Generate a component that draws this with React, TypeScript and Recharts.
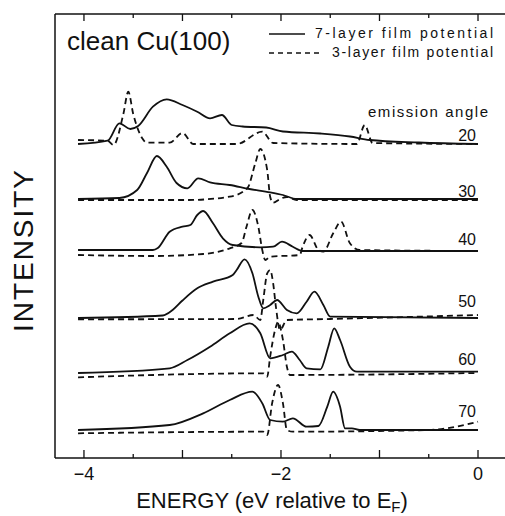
import { LineChart, Line, XAxis, YAxis } from "recharts";

// photoemission spectra, clean Cu(100); energies in eV, intensities above each baseline
const ANGLES = [20, 30, 40, 50, 60, 70];
const OFFSETS = [314, 259, 207, 140, 85, 28];
const X_TICKS = [-4, -3.5, -3, -2.5, -2, -1.5, -1, -0.5, 0];
const X_LABELS = [-4, -2, 0];

type Pt = [number, number];

const SOLID_20: Pt[] = [
  [-4.06, 0], [-3.76, 3.3], [-3.64, 20.7], [-3.53, 15], [-3.45, 18], [-3.3, 37.3],
  [-3.16, 44.7], [-3.0, 39], [-2.85, 32.3], [-2.72, 25.7], [-2.6, 29], [-2.5, 19],
  [-2.39, 17.5], [-2.15, 16.5], [-1.98, 12.5], [-1.6, 10.5], [-1.3, 7.5], [-1.1, 4],
  [-0.6, 1.5], [0, 0],
];
const DASH_20: Pt[] = [
  [-4.06, 4], [-3.76, 3.3], [-3.7, -1], [-3.6, 30], [-3.55, 52.3], [-3.5, 30],
  [-3.41, 6], [-3.36, 1.3], [-3.13, 1.3], [-3.0, 11], [-2.89, 0], [-2.45, 0],
  [-2.19, 12.3], [-2.08, 1], [-1.23, 0], [-1.15, 19], [-1.07, 1], [0, 0],
];
const SOLID_30: Pt[] = [
  [-4.06, 0], [-3.64, 1], [-3.46, 9], [-3.36, 26], [-3.26, 43], [-3.16, 32.3],
  [-3.06, 16], [-2.95, 10.7], [-2.84, 20.7], [-2.72, 16.7], [-2.52, 14], [-2.32, 10],
  [-2.11, 6.7], [-1.98, 4], [-1.84, 0], [0, 0],
];
const DASH_30: Pt[] = [
  [-4.06, -1], [-3.64, -1], [-2.95, -1], [-2.52, 2.3], [-2.34, 11], [-2.26, 36],
  [-2.21, 50], [-2.14, 29], [-2.11, 2.3], [-2.08, -3.7], [-2.01, 0], [-1.94, 2],
  [-1.84, -1], [0, -1],
];
const SOLID_40: Pt[] = [
  [-4.06, 1], [-3.3, 1], [-3.25, 3], [-3.13, 19.3], [-3.0, 24.3], [-2.92, 26],
  [-2.85, 36], [-2.79, 40], [-2.69, 27.7], [-2.59, 12.7], [-2.49, 6], [-2.21, 3.7],
  [-2.08, 4.3], [-1.99, 9.3], [-1.88, 4.3], [-1.78, 0], [0, 0],
];
const DASH_40: Pt[] = [
  [-4.06, -4], [-3.3, -5], [-2.79, -3], [-2.52, 2.7], [-2.4, 8], [-2.35, 24.3],
  [-2.29, 41], [-2.23, 24.3], [-2.19, 1], [-2.16, -9], [-2.11, -5.7], [-1.81, -4],
  [-1.78, 4.3], [-1.71, 16], [-1.62, 1], [-1.57, -0.7], [-1.47, 17.7], [-1.39, 29.3],
  [-1.3, 7.7], [-1.2, 1], [0, 0],
];
const SOLID_50: Pt[] = [
  [-4.06, 0], [-3.2, 2.5], [-3.1, 8], [-3.0, 17.5], [-2.85, 29.7], [-2.69, 36.3], [-2.49, 43],
  [-2.45, 48], [-2.37, 58.7], [-2.29, 44.7], [-2.23, 21.3], [-2.18, 9.7], [-2.11, 13],
  [-2.04, 18], [-1.94, 8], [-1.84, 4.7], [-1.74, 16.3], [-1.66, 26.3], [-1.57, 13],
  [-1.5, 1.3], [0, 0],
];
const DASH_50: Pt[] = [
  [-4.06, -1.3], [-2.45, -1], [-2.28, 3], [-2.21, -2], [-2.18, 18], [-2.14, 44.7],
  [-2.11, 48], [-2.08, 35], [-2.05, 10], [-2.01, -12], [-1.94, -2], [-1.5, -1], [0, 3],
];
const SOLID_60: Pt[] = [
  [-4.06, 0], [-3.13, 4.7], [-2.95, 13], [-2.72, 26.3], [-2.52, 39.7], [-2.32, 49.7],
  [-2.21, 39.7], [-2.11, 14.7], [-1.98, 18], [-1.89, 21.3], [-1.81, 13], [-1.74, 4.7],
  [-1.6, 3.7], [-1.52, 26.3], [-1.46, 44.7], [-1.4, 33], [-1.3, 6.3], [-1.23, 1.3],
  [0, 1.3],
];
const DASH_60: Pt[] = [
  [-4.06, -4.3], [-2.18, -0.3], [-2.14, -3.7], [-2.11, 16.3], [-2.06, 43], [-2.03, 51],
  [-1.98, 33], [-1.94, 6.3], [-1.91, -2], [0, 0],
];
const SOLID_70: Pt[] = [
  [-4.06, 0], [-3.13, 5], [-2.79, 16.7], [-2.52, 30], [-2.29, 38.3], [-2.19, 26.7],
  [-2.11, 10], [-1.98, 8.3], [-1.88, 11.7], [-1.74, 3.3], [-1.62, 4], [-1.53, 23.3],
  [-1.47, 38.3], [-1.4, 23.3], [-1.35, 1.7], [-1.28, 1.7], [-1.2, 0], [0, 0],
];
const DASH_70: Pt[] = [
  [-4.06, -3.3], [-2.18, -1.7], [-2.14, -5], [-2.09, 26.7], [-2.03, 45], [-1.98, 26.7],
  [-1.94, 0], [-1.88, -1.7], [-0.5, 0], [0, 8.3],
];

const SOLID = [SOLID_20, SOLID_30, SOLID_40, SOLID_50, SOLID_60, SOLID_70];
const DASHED = [DASH_20, DASH_30, DASH_40, DASH_50, DASH_60, DASH_70];

const FONT = "'Liberation Sans', Arial, Helvetica, sans-serif";
const INK = "#111";

const toRows = (pts: Pt[], off: number) => pts.map(([e, v]) => ({ e, y: v + off }));

function BottomTick(props: any) {
  const { x, y, payload } = props;
  const v = payload.value as number;
  const major = Number.isInteger(v);
  return (
    <g>
      <line x1={x} x2={x} y1={y} y2={y - (major ? 8 : 4)} stroke={INK} strokeWidth={1.3} />
      {X_LABELS.includes(v) && (
        <text x={x} y={y + 22} textAnchor="middle" fontSize={18} fontFamily={FONT} fill={INK}>
          {v < 0 ? `\u2212${Math.abs(v)}` : v}
        </text>
      )}
    </g>
  );
}

function TopTick(props: any) {
  const { x, y, payload } = props;
  const major = Number.isInteger(payload.value);
  return <line x1={x} x2={x} y1={y} y2={y + (major ? 7 : 4)} stroke={INK} strokeWidth={1.3} />;
}

export default function App() {
  return (
    <div style={{ position: "fixed", left: 0, top: 0, width: 505, height: 516, background: "#fff" }}>
      <LineChart width={505} height={516} margin={{ top: 13, right: 0, bottom: 28, left: 54 }}>
        <XAxis
          type="number"
          dataKey="e"
          domain={[-4.294, 0.274]}
          allowDataOverflow
          ticks={X_TICKS}
          tick={<BottomTick />}
          tickLine={false}
          tickSize={0}
          tickMargin={0}
          height={30}
          axisLine={{ stroke: INK, strokeWidth: 1.5 }}
        />
        <XAxis
          xAxisId="top"
          orientation="top"
          type="number"
          dataKey="e"
          domain={[-4.294, 0.274]}
          allowDataOverflow
          ticks={X_TICKS}
          tick={<TopTick />}
          tickLine={false}
          tickSize={0}
          tickMargin={0}
          height={1}
          axisLine={{ stroke: INK, strokeWidth: 1.5 }}
        />
        <YAxis
          type="number"
          domain={[0, 444]}
          allowDataOverflow
          tick={false}
          tickLine={false}
          width={1}
          axisLine={{ stroke: INK, strokeWidth: 1.5 }}
        />
        {SOLID.map((pts, i) => (
          <Line
            key={`s${ANGLES[i]}`}
            data={toRows(pts, OFFSETS[i])}
            dataKey="y"
            type="monotone"
            stroke={INK}
            strokeWidth={1.8}
            dot={false}
            isAnimationActive={false}
          />
        ))}
        {DASHED.map((pts, i) => (
          <Line
            key={`d${ANGLES[i]}`}
            data={toRows(pts, OFFSETS[i])}
            dataKey="y"
            type="monotone"
            stroke={INK}
            strokeWidth={1.8}
            strokeDasharray="6 4"
            dot={false}
            isAnimationActive={false}
          />
        ))}
      </LineChart>
      <svg
        width={505}
        height={516}
        style={{ position: "absolute", left: 0, top: 0, pointerEvents: "none" }}
        fontFamily={FONT}
        fill={INK}
      >
        <text x={67} y={50} fontSize={26}>clean Cu(100)</text>
        <line x1={269} x2={305} y1={34} y2={34} stroke={INK} strokeWidth={1.4} />
        <text x={315} y={38} fontSize={14} textLength={178} lengthAdjust="spacing">7-layer film potential</text>
        <line x1={269} x2={320} y1={53} y2={53} stroke={INK} strokeWidth={1.4} strokeDasharray="5 4" />
        <text x={332} y={57} fontSize={14} textLength={161} lengthAdjust="spacing">3-layer film potential</text>
        <text x={368} y={117} fontSize={15} textLength={120} lengthAdjust="spacing">emission angle</text>
        {ANGLES.map((a, i) => (
          <text key={a} x={476} y={[141, 197, 245, 307, 365, 417][i]} fontSize={16} textAnchor="end">
            {a}
          </text>
        ))}
        <text
          x={0}
          y={0}
          fontSize={28}
          textAnchor="middle"
          textLength={162}
          lengthAdjust="spacing"
          transform="translate(33 251) rotate(-90)"
        >
          INTENSITY
        </text>
        <text x={272} y={508} fontSize={22} textAnchor="middle">
          ENERGY (eV relative to E<tspan fontSize={15} dy={4}>F</tspan>
          <tspan dy={-4}>)</tspan>
        </text>
      </svg>
    </div>
  );
}
